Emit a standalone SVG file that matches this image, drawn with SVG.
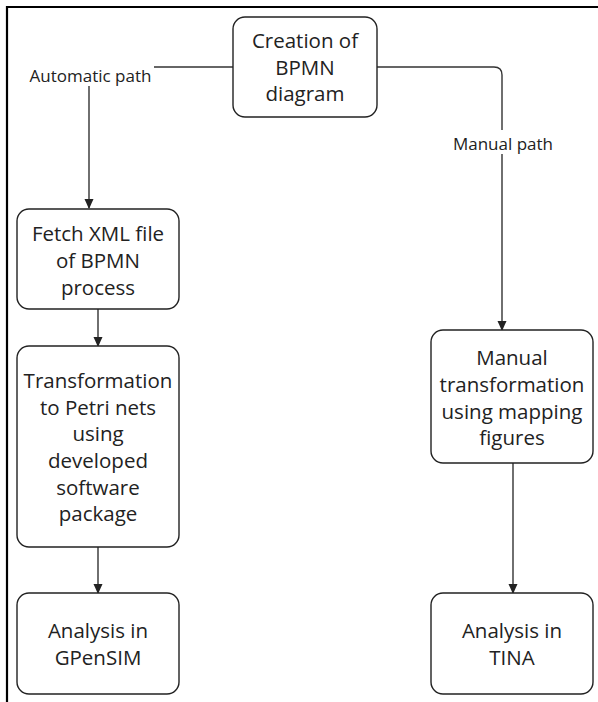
<svg xmlns="http://www.w3.org/2000/svg" width="598" height="702" viewBox="0 0 598 702">
<defs>
<marker id="arr" markerWidth="10" markerHeight="10" refX="9" refY="5" orient="auto" markerUnits="userSpaceOnUse">
<path d="M0,0.5 L10,5 L0,9.5 Z" fill="#222"/>
</marker>
</defs>
<style>
.box{fill:#fff;stroke:#222;stroke-width:1.4}
.t{font-family:"Open Sans","DejaVu Sans",sans-serif;font-size:20.5px;fill:#222;text-anchor:middle;dominant-baseline:central}
.lbl{font-family:"Open Sans","DejaVu Sans",sans-serif;font-size:17px;fill:#222;text-anchor:middle;dominant-baseline:central}
.c{fill:none;stroke:#333;stroke-width:1.4}
</style>
<rect width="598" height="702" fill="#fff"/>
<path d="M7,702 V7 H598" fill="none" stroke="#000" stroke-width="2.2"/>
<g id="connectors">
<path class="c" d="M233,67 H154"/>
<path class="c" d="M89,86 V208" marker-end="url(#arr)"/>
<path class="c" d="M377,67 H494 Q502,67 502,75 V130"/>
<path class="c" d="M502,154 V330" marker-end="url(#arr)"/>
<path class="c" d="M98,309 V346" marker-end="url(#arr)"/>
<path class="c" d="M98,547 V593" marker-end="url(#arr)"/>
<path class="c" d="M513,463 V593" marker-end="url(#arr)"/>
<text class="lbl" x="90.5" y="75">Automatic path</text>
<text class="lbl" x="503" y="143">Manual path</text>
</g>
<g id="creation">
<rect class="box" x="233" y="17" width="144" height="100" rx="12"/>
<text class="t" x="305" y="40">Creation of</text>
<text class="t" x="305" y="67">BPMN</text>
<text class="t" x="305" y="93">diagram</text>
</g>
<g id="fetch">
<rect class="box" x="17" y="209" width="162" height="100" rx="12"/>
<text class="t" x="98" y="233">Fetch XML file</text>
<text class="t" x="98" y="260">of BPMN</text>
<text class="t" x="98" y="287">process</text>
</g>
<g id="transform">
<rect class="box" x="17" y="346" width="162" height="201" rx="12"/>
<text class="t" x="98" y="380">Transformation</text>
<text class="t" x="98" y="407">to Petri nets</text>
<text class="t" x="98" y="433">using</text>
<text class="t" x="98" y="460">developed</text>
<text class="t" x="98" y="487">software</text>
<text class="t" x="98" y="513">package</text>
</g>
<g id="gpensim">
<rect class="box" x="17" y="593" width="162" height="101" rx="12"/>
<text class="t" x="98" y="630">Analysis in</text>
<text class="t" x="98" y="657">GPenSIM</text>
</g>
<g id="manual">
<rect class="box" x="431" y="330" width="162" height="133" rx="12"/>
<text class="t" x="512" y="357">Manual</text>
<text class="t" x="512" y="384">transformation</text>
<text class="t" x="512" y="411">using mapping</text>
<text class="t" x="512" y="437">figures</text>
</g>
<g id="tina">
<rect class="box" x="431" y="593" width="162" height="101" rx="12"/>
<text class="t" x="512" y="630">Analysis in</text>
<text class="t" x="512" y="657">TINA</text>
</g>
</svg>
